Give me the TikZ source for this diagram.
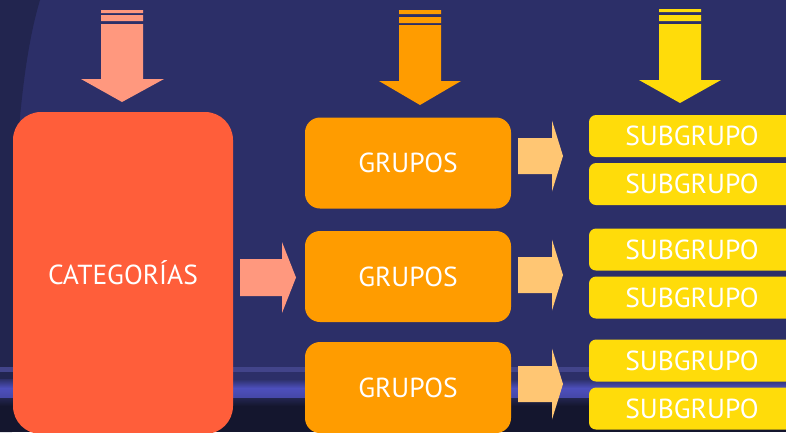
\documentclass[tikz,border=0pt]{standalone}
\usepackage{fontspec}
\setmainfont{PT Sans}
\definecolor{navy}{HTML}{2C2F68}
\definecolor{navydark}{HTML}{22254F}
\definecolor{bandblue}{HTML}{4D4FBC}
\definecolor{streak}{HTML}{42448A}
\definecolor{floor}{HTML}{14162E}
\definecolor{salmon}{HTML}{FF987E}
\definecolor{catred}{HTML}{FF5E3A}
\definecolor{grporange}{HTML}{FF9C00}
\definecolor{lightorange}{HTML}{FFC673}
\definecolor{subyellow}{HTML}{FFDC0A}
\begin{document}
\begin{tikzpicture}[x=1pt,y=-1pt,
  box/.style={draw=none, text=white, font=\fontsize{27.5}{30}\selectfont, inner sep=0pt},
  catbox/.style={box, fill=catred, minimum width=220pt, minimum height=322pt, rounded corners=28pt},
  grpbox/.style={box, fill=grporange, minimum width=206pt, minimum height=91pt, rounded corners=15pt},
  subbox/.style={box, fill=subyellow, minimum width=206pt, minimum height=42pt, rounded corners=7pt}]
% background
\fill[navy] (0,0) rectangle (786,432);
\useasboundingbox (0,0) rectangle (786,432);
\fill[navydark] (0,0) -- (40,0) .. controls (28,40) and (22,90) .. (18,140) -- (12,432) -- (0,432) -- cycle;
\fill[streak] (0,367) rectangle (786,372);
\shade[top color=navy, bottom color=bandblue] (0,379) rectangle (786,388);
\shade[top color=bandblue, bottom color=bandblue!75!navy] (0,388) rectangle (786,398);
\shade[top color=navydark, bottom color=floor] (0,398) rectangle (786,406);
\fill[floor] (0,406) rectangle (786,432);
% top arrows
\fill[salmon] (101,10) rectangle (143,13) (101,15) rectangle (143,21)
  (101,24) -- (143,24) -- (143,79) -- (164,79) -- (122,102) -- (81,79) -- (101,79) -- cycle;
\fill[grporange] (399,10) rectangle (441,14) (399,17) rectangle (441,23)
  (399,25) -- (441,25) -- (441,81) -- (461,81) -- (420,105) -- (379,81) -- (399,81) -- cycle;
\fill[subyellow] (659,9) rectangle (701,12) (659,15) rectangle (701,21)
  (659,24) -- (701,24) -- (701,80) -- (721,80) -- (680,103) -- (639,80) -- (659,80) -- cycle;
% boxes
\node[catbox] (cat) at (123,273) {CATEGORÍAS};
\node[grpbox] (g1) at (408,163) {GRUPOS};
\node[grpbox] (g2) at (408,276.5) {GRUPOS};
\node[grpbox] (g3) at (408,387.5) {GRUPOS};
\node[subbox] (s1) at (692,136) {SUBGRUPO};
\node[subbox] (s2) at (692,184) {SUBGRUPO};
\node[subbox] (s3) at (692,249.5) {SUBGRUPO};
\node[subbox] (s4) at (692,297.5) {SUBGRUPO};
\node[subbox] (s5) at (692,360.5) {SUBGRUPO};
\node[subbox] (s6) at (692,408.5) {SUBGRUPO};
% block arrows between boxes
\fill[salmon] (240,259) -- (282,259) -- (282,242) -- (296,277.5) -- (282,313) -- (282,296) -- (240,296) -- cycle;
\foreach \yc in {156,275,384}{
  \fill[lightorange] (518,\yc-18) -- (552,\yc-18) -- (552,\yc-35.5) -- (563,\yc) -- (552,\yc+35.5) -- (552,\yc+18) -- (518,\yc+18) -- cycle;
}
\end{tikzpicture}
\end{document}
